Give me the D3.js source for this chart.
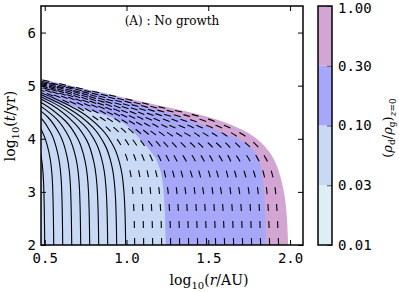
<!DOCTYPE html>
<html>
<head>
<meta charset="utf-8">
<script src="https://cdn.jsdelivr.net/npm/d3@7"></script>
<style>
  body { margin: 0; background: #fff; }
  .mono { font-family: "DejaVu Sans Mono", monospace; font-size: 14px; }
  .serif { font-family: "DejaVu Serif", serif; }
</style>
</head>
<body>
<div id="chart"></div>
<script>
// ================= data =============
var levels = ["0.01", "0.03", "0.10", "0.30", "1.00"];
var levelColors = ["#ddeff3", "#c8d9f5", "#a7a7fa", "#d3a5d3"];

var xTicks = [0.5, 1.0, 1.5, 2.0];
var yTicks = [2, 3, 4, 5, 6];

// outer edge of the dust (top boundary), [log r, log t]
var edge = [[0.45, 5.14], [0.477, 5.12], [0.6, 5.036], [0.8, 4.90], [1.0, 4.764], [1.2, 4.628],
  [1.4, 4.492], [1.5, 4.41], [1.6, 4.31], [1.7, 4.18], [1.75, 4.10], [1.8, 3.99], [1.85, 3.84],
  [1.9, 3.62], [1.93, 3.40], [1.95, 3.18], [1.965, 2.95], [1.975, 2.72], [1.983, 2.40],
  [1.988, 2.0], [1.989, 1.9]];

// 0.30 contour (blue / mauve)
var contour30 = [[0.45, 5.14], [0.477, 5.12], [0.6, 5.036], [0.8, 4.90], [0.95, 4.79],
  [1.0, 4.73], [1.1, 4.64], [1.2, 4.54], [1.3, 4.44], [1.4, 4.33], [1.5, 4.22], [1.6, 4.10],
  [1.7, 3.97], [1.75, 3.86], [1.8, 3.67], [1.83, 3.3], [1.845, 2.8], [1.853, 2.0], [1.854, 1.9]];

// 0.10 contour (light blue / blue)
var contour10 = [[0.45, 4.76], [0.477, 4.74], [0.6, 4.66], [0.8, 4.51], [0.9, 4.41], [1.0, 4.26],
  [1.08, 4.0], [1.15, 3.75], [1.19, 3.55], [1.22, 3.2], [1.235, 2.6], [1.24, 2.0], [1.241, 1.9]];

// particle tracks, starting radius = first point
var tracks = [
  [[0.5, 2], [0.493, 3.17], [0.471, 3.78], [0.427, 4.19]],
  [[0.555, 2], [0.548, 3.13], [0.526, 3.74], [0.482, 4.15], [0.408, 4.48]],
  [[0.61, 2], [0.603, 3.09], [0.581, 3.70], [0.537, 4.12], [0.463, 4.44], [0.316, 4.80]],
  [[0.665, 2], [0.658, 3.06], [0.636, 3.67], [0.592, 4.08], [0.518, 4.41], [0.371, 4.76]],
  [[0.72, 2], [0.713, 3.02], [0.691, 3.63], [0.647, 4.04], [0.573, 4.37], [0.426, 4.72]],
  [[0.775, 2], [0.768, 2.98], [0.746, 3.59], [0.702, 4.00], [0.628, 4.33], [0.481, 4.68], [0.334, 4.92]],
  [[0.83, 2], [0.823, 2.94], [0.801, 3.55], [0.757, 3.97], [0.683, 4.29], [0.536, 4.65], [0.389, 4.88]],
  [[0.885, 2], [0.878, 2.91], [0.856, 3.52], [0.812, 3.93], [0.738, 4.26], [0.591, 4.61], [0.444, 4.84]],
  [[0.94, 2], [0.933, 2.87], [0.911, 3.48], [0.867, 3.89], [0.793, 4.22], [0.646, 4.57], [0.499, 4.80], [0.352, 4.99]],
  [[0.995, 2], [0.988, 2.83], [0.966, 3.44], [0.922, 3.85], [0.848, 4.18], [0.701, 4.54], [0.554, 4.77], [0.407, 4.95]],
  [[1.05, 2], [1.043, 2.79], [1.021, 3.40], [0.977, 3.82], [0.903, 4.14], [0.756, 4.50], [0.609, 4.73], [0.462, 4.91], [0.168, 5.20]],
  [[1.105, 2], [1.098, 2.76], [1.076, 3.37], [1.032, 3.78], [0.958, 4.11], [0.811, 4.46], [0.664, 4.69], [0.517, 4.87], [0.223, 5.17]],
  [[1.16, 2], [1.153, 2.72], [1.131, 3.33], [1.087, 3.74], [1.013, 4.07], [0.866, 4.42], [0.719, 4.65], [0.572, 4.84], [0.278, 5.13]],
  [[1.215, 2], [1.208, 2.68], [1.186, 3.29], [1.142, 3.70], [1.068, 4.03], [0.921, 4.39], [0.774, 4.62], [0.627, 4.80], [0.333, 5.09]],
  [[1.27, 2], [1.263, 2.65], [1.241, 3.25], [1.197, 3.67], [1.123, 3.99], [0.976, 4.35], [0.829, 4.58], [0.682, 4.76], [0.388, 5.06]],
  [[1.325, 2], [1.318, 2.61], [1.296, 3.22], [1.252, 3.63], [1.178, 3.96], [1.031, 4.31], [0.884, 4.54], [0.737, 4.72], [0.443, 5.02], [0.149, 5.27]],
  [[1.38, 2], [1.373, 2.57], [1.351, 3.18], [1.307, 3.59], [1.233, 3.92], [1.086, 4.27], [0.939, 4.50], [0.792, 4.69], [0.498, 4.98], [0.204, 5.23]],
  [[1.435, 2], [1.43, 2.43], [1.42, 2.92], [1.4, 3.30], [1.35, 3.66], [1.3, 3.86], [1.2, 4.13], [1.1, 4.31], [1.0, 4.46], [0.8, 4.70], [0.6, 4.90], [0.45, 5.03]],
  [[1.49, 2], [1.485, 2.41], [1.47, 3.0], [1.45, 3.31], [1.4, 3.69], [1.3, 4.01], [1.2, 4.21], [1.1, 4.37], [1.0, 4.50], [0.8, 4.73], [0.6, 4.92], [0.45, 5.04]],
  [[1.545, 2], [1.54, 2.43], [1.53, 2.91], [1.5, 3.40], [1.45, 3.71], [1.4, 3.90], [1.3, 4.12], [1.2, 4.29], [1.1, 4.42], [1.0, 4.54], [0.8, 4.75], [0.6, 4.93], [0.45, 5.05]],
  [[1.6, 2], [1.595, 2.36], [1.585, 2.85], [1.57, 3.16], [1.55, 3.40], [1.5, 3.72], [1.45, 3.89], [1.4, 4.03], [1.3, 4.20], [1.2, 4.34], [1.0, 4.58], [0.8, 4.77], [0.6, 4.95], [0.45, 5.06]],
  [[1.655, 2], [1.65, 2.42], [1.64, 2.90], [1.62, 3.28], [1.6, 3.49], [1.55, 3.75], [1.5, 3.92], [1.45, 4.04], [1.4, 4.14], [1.3, 4.28], [1.2, 4.40], [1.0, 4.61], [0.8, 4.79], [0.6, 4.96], [0.45, 5.07]],
  [[1.71, 2], [1.705, 2.43], [1.7, 2.74], [1.68, 3.17], [1.65, 3.48], [1.6, 3.77], [1.55, 3.92], [1.5, 4.05], [1.4, 4.22], [1.2, 4.45], [1.0, 4.64], [0.8, 4.81], [0.6, 4.97], [0.45, 5.08]],
  [[1.765, 2], [1.76, 2.48], [1.75, 2.96], [1.72, 3.38], [1.7, 3.54], [1.65, 3.77], [1.6, 3.94], [1.5, 4.15], [1.4, 4.29], [1.2, 4.49], [1.0, 4.67], [0.8, 4.83], [0.6, 4.99], [0.45, 5.09]],
  [[1.82, 2], [1.815, 2.48], [1.81, 2.79], [1.8, 3.10], [1.78, 3.36], [1.75, 3.61], [1.7, 3.82], [1.6, 4.08], [1.5, 4.24], [1.4, 4.35], [1.2, 4.53], [1.0, 4.70], [0.8, 4.85], [0.6, 5.00], [0.45, 5.10]],
  [[1.875, 2], [1.87, 2.45], [1.86, 2.95], [1.85, 3.19], [1.8, 3.64], [1.75, 3.86], [1.7, 3.99], [1.6, 4.18], [1.5, 4.31], [1.4, 4.41], [1.2, 4.57], [1.0, 4.72], [0.8, 4.87], [0.6, 5.01], [0.45, 5.11]],
  [[1.93, 2], [1.925, 2.35], [1.92, 2.66], [1.9, 3.22], [1.85, 3.64], [1.8, 3.86], [1.75, 4.00], [1.7, 4.10], [1.6, 4.25], [1.5, 4.37], [1.4, 4.46], [1.2, 4.60], [1.0, 4.75], [0.8, 4.89], [0.6, 5.03], [0.45, 5.13]]
];

// ================= layout =============
var svgWidth = 399;
var svgHeight = 292;
var margin = { top: 6, left: 41 };
var width = 262;
var height = 239;

var svg = d3.select("#chart")
  .append("svg")
  .attr("width", svgWidth)
  .attr("height", svgHeight);

var chartGroup = svg.append("g")
  .attr("transform", `translate(${margin.left}, ${margin.top})`);

var xScale = d3.scaleLinear().domain([Math.log10(3), Math.log10(120)]).range([0, width]);
var yScale = d3.scaleLinear().domain([2, 6.5]).range([height, 0]);

chartGroup.append("clipPath").attr("id", "plotClip")
  .append("rect").attr("width", width).attr("height", height);

var plot = chartGroup.append("g").attr("clip-path", "url(#plotClip)");

// ================= filled regions =============
var area = d3.area()
  .x(d => xScale(d[0]))
  .y0(yScale(1.9))
  .y1(d => yScale(d[1]))
  .curve(d3.curveMonotoneX);

[[edge, 3], [contour30, 2], [contour10, 1]].forEach(function(r) {
  plot.append("path")
    .attr("d", area(r[0]))
    .attr("fill", levelColors[r[1]]);
});

// ================= tracks =============
var trackLine = d3.line()
  .x(d => xScale(d[0]))
  .y(d => yScale(d[1]))
  .curve(d3.curveMonotoneY);

plot.selectAll(".track")
  .data(tracks)
  .enter()
  .append("path")
  .attr("class", "track")
  .attr("d", d => trackLine(d))
  .attr("fill", "none")
  .attr("stroke", "#000")
  .attr("stroke-width", 1.1)
  .attr("stroke-dasharray", d => d[0][0] >= 1 ? "7,10" : null);

// ================= axes =============
var tickFont = g => g.selectAll("text").attr("class", "mono");

chartGroup.append("g")
  .attr("transform", `translate(0, ${height})`)
  .call(d3.axisBottom(xScale).tickValues(xTicks).tickSize(-5).tickPadding(8).tickFormat(d3.format(".1f")))
  .call(tickFont);
chartGroup.append("g")
  .call(d3.axisTop(xScale).tickValues(xTicks).tickSize(-5).tickFormat(""));
chartGroup.append("g")
  .call(d3.axisLeft(yScale).tickValues(yTicks).tickSize(-5).tickPadding(5).tickFormat(d3.format("d")))
  .call(tickFont);
chartGroup.append("g")
  .attr("transform", `translate(${width}, 0)`)
  .call(d3.axisRight(yScale).tickValues(yTicks).tickSize(-5).tickFormat(""));

chartGroup.selectAll(".domain").remove();
chartGroup.selectAll(".tick line").attr("stroke", "#000");
chartGroup.selectAll(".tick text").attr("fill", "#000").attr("font-size", null).attr("font-family", null);

chartGroup.append("rect")
  .attr("width", width)
  .attr("height", height)
  .attr("fill", "none")
  .attr("stroke", "#000")
  .attr("stroke-width", 1.5);

// title
chartGroup.append("text")
  .attr("class", "serif")
  .attr("x", 131)
  .attr("y", 19)
  .attr("text-anchor", "middle")
  .attr("font-size", 12)
  .text("(A) : No growth");

// axis labels
var xLabel = svg.append("text")
  .attr("class", "serif")
  .attr("x", 209)
  .attr("y", 285)
  .attr("text-anchor", "middle")
  .attr("font-size", 14);
xLabel.append("tspan").text("log");
xLabel.append("tspan").attr("dy", 4).attr("font-size", 10).text("10");
xLabel.append("tspan").attr("dy", -4).text("(");
xLabel.append("tspan").attr("font-style", "italic").text("r");
xLabel.append("tspan").text("/AU)");

var yLabel = svg.append("text")
  .attr("class", "serif")
  .attr("transform", "translate(15, 126) rotate(-90)")
  .attr("text-anchor", "middle")
  .attr("font-size", 14);
yLabel.append("tspan").text("log");
yLabel.append("tspan").attr("dy", 4).attr("font-size", 10).text("10");
yLabel.append("tspan").attr("dy", -4).text("(");
yLabel.append("tspan").attr("font-style", "italic").text("t");
yLabel.append("tspan").text("/yr)");

// ================= colorbar =============
var barX = 318;
var barW = 14;
var barScale = d3.scalePoint().domain(levels).range([margin.top + height, margin.top]);

var bar = svg.append("g");
levelColors.forEach(function(c, i) {
  bar.append("rect")
    .attr("x", barX)
    .attr("y", barScale(levels[i + 1]))
    .attr("width", barW)
    .attr("height", barScale(levels[i]) - barScale(levels[i + 1]))
    .attr("fill", c);
});
bar.append("g")
  .attr("transform", `translate(${barX + barW}, 0)`)
  .call(d3.axisRight(barScale).tickSize(-5).tickPadding(6))
  .call(tickFont);
bar.selectAll(".domain").remove();
bar.selectAll(".tick line").attr("stroke", "#555");
bar.selectAll(".tick text").attr("fill", "#000").attr("font-size", null).attr("font-family", null);
// top label sits at the very edge, nudge it in a little
bar.selectAll(".tick text").filter(d => d === "1.00").attr("dy", "0.45em");
bar.append("rect")
  .attr("x", barX)
  .attr("y", margin.top)
  .attr("width", barW)
  .attr("height", height)
  .attr("fill", "none")
  .attr("stroke", "#000")
  .attr("stroke-width", 1.5);

var cLabel = svg.append("text")
  .attr("class", "serif")
  .attr("transform", "translate(392, 128) rotate(-90)")
  .attr("text-anchor", "middle")
  .attr("font-size", 13);
cLabel.append("tspan").text("(");
cLabel.append("tspan").attr("font-style", "italic").text("ρ");
cLabel.append("tspan").attr("dy", 3).attr("font-size", 9).text("d");
cLabel.append("tspan").attr("dy", -3).text("/");
cLabel.append("tspan").attr("font-style", "italic").text("ρ");
cLabel.append("tspan").attr("dy", 3).attr("font-size", 9).text("g");
cLabel.append("tspan").attr("dy", -3).text(")");
cLabel.append("tspan").attr("dy", 4).attr("font-size", 9).attr("font-style", "italic").text("z");
cLabel.append("tspan").attr("font-size", 9).text("=0");
</script>
</body>
</html>
